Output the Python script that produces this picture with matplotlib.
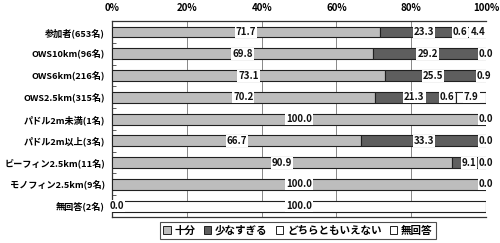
import matplotlib
matplotlib.use("Agg")
import matplotlib.pyplot as plt
from matplotlib.patches import Patch
import numpy as np

plt.rcParams['font.family'] = ['Noto Sans CJK JP', 'DejaVu Sans']

categories = ["参加者(653名)", "OWS10km(96名)", "OWS6km(216名)", "OWS2.5km(315名)",
              "パドル2m未満(1名)", "パドル2m以上(3名)", "ビーフィン2.5km(11名)",
              "モノフィン2.5km(9名)", "無回答(2名)"]
series_names = ["十分", "少なすぎる", "どちらともいえない", "無回答"]
juubun    = [71.7, 69.8, 73.1, 70.2, 100.0, 66.7, 90.9, 100.0, 0.0]
sukunai   = [23.3, 29.2, 25.5, 21.3, 0.0, 33.3, 9.1, 0.0, 0.0]
dochira   = [0.6, 1.0, 0.5, 0.6, 0.0, 0.0, 0.0, 0.0, 0.0]
mukaitou  = [4.4, 0.0, 0.9, 7.9, 0.0, 0.0, 0.0, 0.0, 100.0]
show_dochira_label = [True, False, False, True, False, False, False, False, False]
xticks = [0, 20, 40, 60, 80, 100]
xticklabels = ["0%", "20%", "40%", "60%", "80%", "100%"]

colors = ["#bdbdbd", "#5e5e5e", "#ffffff", "#ffffff"]

fig = plt.figure(figsize=(5.0, 2.43), dpi=100)
ax = fig.add_axes([0.224, 0.107, 0.748, 0.806])

data = [juubun, sukunai, dochira, mukaitou]
y = np.arange(len(categories))
left = np.zeros(len(categories))
for i, (vals, c) in enumerate(zip(data, colors)):
    vals = np.array(vals)
    ax.barh(y, vals, left=left, height=0.5, color=c, edgecolor="#202020",
            linewidth=0.8, zorder=3)
    for j in range(len(categories)):
        v = vals[j]
        show = (i == 0) or (i == 3) or (i == 1 and v > 0) or (i == 2 and show_dochira_label[j])
        if show:
            xpos = left[j] + v / 2
            if i == 2:
                xpos -= 2.2
            if i == 0 and v == 0:
                xpos += 1.2
            ax.text(xpos, y[j], f"{v:.1f}", ha="center", va="center",
                    fontsize=7, fontweight="bold", color="#111111", zorder=5,
                    bbox=dict(boxstyle="square,pad=0.1", fc="white", ec="none"))
    left = left + vals

ax.set_xlim(0, 100)
ax.set_ylim(len(categories) - 0.5, -0.5)
ax.set_xticks(xticks)
ax.set_xticklabels(xticklabels, fontsize=7, fontweight="bold")
ax.xaxis.tick_top()
ax.tick_params(axis="x", length=0, pad=6)
ax.set_yticks(y)
ax.set_yticklabels(categories, fontsize=6.6, fontweight="bold")
ax.set_yticks(np.arange(len(categories) + 1) - 0.5, minor=True)
ax.tick_params(axis="y", which="major", length=0, pad=5)
ax.tick_params(axis="y", which="minor", length=3, color="#444444", direction="in")
for gx in [20, 40, 60, 80, 100]:
    ax.axvline(gx, color="#888888", linewidth=0.7, zorder=1)
for s in ["top", "left", "bottom"]:
    ax.spines[s].set_color("#333333")
    ax.spines[s].set_linewidth(0.9)
ax.spines["right"].set_visible(False)

handles = [Patch(facecolor=c, edgecolor="#202020", linewidth=0.7) for c in colors]
leg = fig.legend(handles, series_names, loc="lower center", bbox_to_anchor=(0.596, -0.005),
                 ncol=4, frameon=True, handlelength=0.7, handleheight=0.7,
                 handletextpad=0.35, columnspacing=0.8, borderpad=0.3, fancybox=False,
                 prop={'weight': 'bold', 'size': 7.6})
leg.get_frame().set_edgecolor("#222222")
leg.get_frame().set_linewidth(0.8)

fig.savefig("out.png", dpi=100)
